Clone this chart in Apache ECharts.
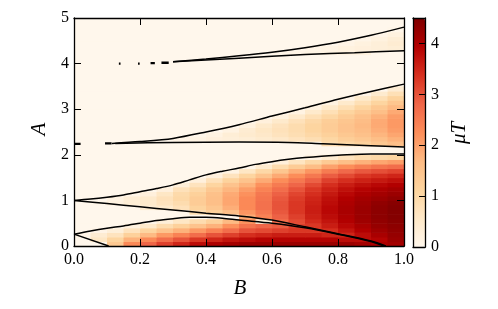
<!DOCTYPE html>
<html><head><meta charset="utf-8">
<script src="https://cdn.jsdelivr.net/npm/echarts@6/dist/echarts.min.js"></script>
<style>html,body{margin:0;padding:0;background:#fff}#c{width:498px;height:309px}</style>
</head><body><div id="c"></div>
<script>
// ---- data ----
const B_mid = [0.025,0.075,0.125,0.175,0.225,0.275,0.325,0.375,0.425,0.475,0.525,0.575,0.625,0.675,0.725,0.775,0.825,0.875,0.925,0.975];
const A_mid = [0.05,0.15,0.25,0.35,0.45,0.55,0.65,0.75,0.85,0.95,1.05,1.15,1.25,1.35,1.45,1.55,1.65,1.75,1.85,1.95,
               2.25,2.35,2.45,2.55,2.65,2.75,2.85,2.95,3.05,3.15,3.25,3.35,3.45,
               4.15,4.25,4.35,4.45,4.55,4.65,4.75];
const muT = [
[0,0,1.4,2.3,2.8,3.2,3.5,3.8,4.0,4.1,4.2,4.2,4.2,4.2,4.2,4.2,4.2,4.1,4.0,4.1],
[0,0.6,1.1,1.8,2.3,2.7,3.0,3.3,3.5,3.7,3.8,3.9,3.9,3.9,3.9,3.9,3.8,3.8,3.9,4.2],
[0.1,0.4,0.7,1.2,1.7,2.1,2.4,2.7,3.0,3.2,3.4,3.5,3.6,3.6,3.6,3.5,3.5,3.8,4.05,4.25],
[0,0.1,0.3,0.7,1.1,1.5,1.8,2.1,2.4,2.7,3.0,3.1,3.2,3.3,3.3,3.4,3.7,3.95,4.15,4.3],
[0,0,0,0.2,0.5,0.9,1.2,1.5,1.8,2.2,2.6,2.8,2.9,3.2,3.3,3.6,3.85,4.05,4.25,4.35],
[0,0,0,0,0,0.3,0.6,0.9,1.2,1.7,2.2,0.3,2.7,3.1,3.45,3.7,3.95,4.15,4.3,4.4],
[0,0,0,0,0,0,0,0,0,0,1.9,2.4,2.85,3.2,3.55,3.8,4.0,4.2,4.35,4.45],
[0,0,0,0,0,0,0,0.9,1.2,1.6,2.15,2.55,2.95,3.3,3.6,3.85,4.05,4.2,4.35,4.45],
[0,0,0,0,0.4,0.5,0.75,1.15,1.45,1.85,2.3,2.65,3.0,3.3,3.6,3.85,4.05,4.2,4.35,4.45],
[0,0.05,0.2,0.35,0.5,0.7,0.9,1.3,1.6,1.95,2.3,2.65,3.0,3.3,3.55,3.8,4.0,4.15,4.3,4.4],
[0,0,0.15,0.35,0.5,0.75,1.0,1.3,1.6,1.95,2.3,2.6,2.95,3.25,3.5,3.75,3.95,4.1,4.2,4.3],
[0,0,0,0.05,0.25,0.6,0.95,1.2,1.55,1.9,2.2,2.55,2.85,3.15,3.4,3.65,3.85,4.0,4.1,4.2],
[0,0,0,0,0,0.25,0.75,1.0,1.4,1.75,2.05,2.4,2.7,3.0,3.3,3.55,3.75,3.9,4.0,4.1],
[0,0,0,0,0,0,0.3,0.7,1.1,1.5,1.8,2.2,2.5,2.8,3.1,3.4,3.6,3.75,3.85,3.95],
[0,0,0,0,0,0,0,0.25,0.75,1.15,1.5,1.9,2.25,2.55,2.85,3.2,3.4,3.55,3.65,3.75],
[0,0,0,0,0,0,0,0,0.25,0.7,1.1,1.5,1.9,2.25,2.55,2.9,3.1,3.3,3.4,3.5],
[0,0,0,0,0,0,0,0,0,0.15,0.6,1.0,1.45,1.85,2.15,2.5,2.75,2.95,3.05,3.15],
[0,0,0,0,0,0,0,0,0,0,0.05,0.45,0.9,1.3,1.65,2.0,2.25,2.45,2.6,2.7],
[0,0,0,0,0,0,0,0,0,0,0,0,0.25,0.65,1.0,1.35,1.6,1.8,1.95,2.05],
[0,0,0,0,0,0,0,0,0,0,0,0,0,0,0.15,0.4,0.7,0.9,1.0,1.1],
[0,0,0,0,0,0,0,0,0,0,0,0,0,0,0,0.9,1.05,1.2,1.4,1.6],
[0,0,0,0,0,0,0.1,0.15,0.25,0.3,0.35,0.45,0.55,0.7,0.85,1.05,1.25,1.4,1.6,1.8],
[0,0,0,0,0,0,0,0.05,0.15,0.35,0.45,0.55,0.7,0.85,1.0,1.2,1.4,1.55,1.75,1.95],
[0,0,0,0,0,0,0,0,0,0.15,0.4,0.6,0.75,0.9,1.1,1.3,1.5,1.65,1.85,2.05],
[0,0,0,0,0,0,0,0,0,0,0.2,0.5,0.7,0.9,1.1,1.3,1.5,1.7,1.9,2.1],
[0,0,0,0,0,0,0,0,0,0,0,0.25,0.5,0.75,1.0,1.25,1.45,1.65,1.9,2.1],
[0,0,0,0,0,0,0,0,0,0,0,0,0.2,0.5,0.8,1.05,1.3,1.55,1.8,2.05],
[0,0,0,0,0,0,0,0,0,0,0,0,0,0.15,0.5,0.8,1.1,1.35,1.6,1.9],
[0,0,0,0,0,0,0,0,0,0,0,0,0,0,0.15,0.5,0.8,1.1,1.4,1.7],
[0,0,0,0,0,0,0,0,0,0,0,0,0,0,0,0.15,0.5,0.8,1.1,1.45],
[0,0,0,0,0,0,0,0,0,0,0,0,0,0,0,0,0.1,0.5,0.8,1.15],
[0,0,0,0,0,0,0,0,0,0,0,0,0,0,0,0,0,0.1,0.45,0.8],
[0,0,0,0,0,0,0,0,0,0,0,0,0,0,0,0,0,0,0,0.4],
[0,0,0,0,0,0,0,0,0,0,0,0.05,0.05,0,0,0,0,0,0,0],
[0,0,0,0,0,0,0,0,0,0,0,0,0.08,0.1,0.12,0.15,0.18,0.2,0,0],
[0,0,0,0,0,0,0,0,0,0,0,0,0,0,0.08,0.12,0.2,0.25,0.3,0.35],
[0,0,0,0,0,0,0,0,0,0,0,0,0,0,0,0,0.1,0.2,0.3,0.4],
[0,0,0,0,0,0,0,0,0,0,0,0,0,0,0,0,0,0.08,0.2,0.35],
[0,0,0,0,0,0,0,0,0,0,0,0,0,0,0,0,0,0,0.08,0.2],
[0,0,0,0,0,0,0,0,0,0,0,0,0,0,0,0,0,0,0,0.05]
];
// boundary (contour) lines, [B, A]
const L1 = [[0.3,4.04],[0.4,4.10],[0.5,4.17],[0.6,4.25],[0.7,4.35],[0.8,4.47],[0.9,4.62],[1.0,4.80]];
const L2 = [[0.3,4.04],[0.5,4.12],[0.7,4.20],[0.85,4.24],[1.0,4.28]];
const L3 = [[0.115,2.25],[0.2,2.29],[0.3,2.36],[0.4,2.50],[0.5,2.66],[0.6,2.85],[0.7,3.03],[0.8,3.22],[0.9,3.39],[1.0,3.55]];
const L4 = [[0.125,2.25],[0.3,2.27],[0.5,2.28],[0.65,2.27],[0.755,2.24],[0.9,2.20],[1.0,2.17]];
const L5 = [[0,1.0],[0.05,1.03],[0.1,1.07],[0.15,1.12],[0.2,1.19],[0.25,1.26],[0.3,1.34],[0.35,1.45],[0.4,1.56],[0.45,1.64],[0.5,1.71],[0.55,1.79],[0.6,1.85],[0.65,1.90],[0.7,1.94],[0.75,1.97],[0.8,1.99],[0.9,2.02],[1.0,2.02]];
const L6 = [[0,1.0],[0.1,0.93],[0.2,0.86],[0.3,0.79],[0.4,0.72],[0.5,0.66],[0.6,0.57],[0.7,0.42],[0.8,0.27],[0.9,0.11],[0.945,0]];
const L7 = [[0,0.26],[0.05,0.33],[0.1,0.39],[0.15,0.44],[0.2,0.50],[0.25,0.56],[0.3,0.60],[0.35,0.63],[0.4,0.63],[0.45,0.61],[0.5,0.57],[0.6,0.50],[0.7,0.40],[0.8,0.26],[0.9,0.10],[0.94,0]];
const L8 = [[0,0.26],[0.105,0]];
const dashSegs = [
  [[0.0,2.24],[0.02,2.24]], [[0.094,2.25],[0.114,2.25]],
  [[0.136,4.0],[0.141,4.0]], [[0.194,4.0],[0.199,4.0]], [[0.232,4.01],[0.245,4.01]], [[0.265,4.02],[0.287,4.02]]
];
const xTicks = [0, 0.2, 0.4, 0.6, 0.8, 1.0];
const yTicks = [0, 1, 2, 3, 4, 5];
const cbarTicks = [0, 1, 2, 3, 4];
const cbarMax = 4.5;
const OrRd = ['#fff7ec','#fee8c8','#fdd49e','#fdbb84','#fc8d59','#ef6548','#d7301f','#b30000','#7f0000'];

// ---- build ----
const cells = [];
A_mid.forEach((a, i) => B_mid.forEach((b, j) => cells.push([b, a, muT[i][j]])));
const dB = B_mid[1] - B_mid[0];
const dA = A_mid[1] - A_mid[0];
const SERIF = '"Liberation Serif","DejaVu Serif",serif';
const black = '#000';

function frameAxis(extra) {
  return Object.assign({
    type: 'value', z: 10,
    axisLine: {show: true, onZero: false, lineStyle: {color: black, width: 1.3}},
    axisTick: {show: true, inside: true, length: 7, lineStyle: {color: black, width: 1}},
    axisLabel: {show: false},
    splitLine: {show: false}
  }, extra);
}
const lblStyle = {color: black, fontFamily: SERIF, fontSize: 16};

const lineSeries = [L1, L2, L3, L4, L5, L6, L7, L8].map(d => ({
  type: 'line', xAxisIndex: 0, yAxisIndex: 0, data: d, symbol: 'none', smooth: 0.3,
  lineStyle: {color: black, width: 1.5}, z: 5, silent: true, clip: true
}));
const dashSeries = dashSegs.map(d => ({
  type: 'line', xAxisIndex: 0, yAxisIndex: 0, data: d, symbol: 'none',
  lineStyle: {color: black, width: 2.4}, z: 5, silent: true
}));

const option = {
  animation: false,
  grid: [
    {left: 74, top: 18, width: 330, height: 228, show: true, backgroundColor: OrRd[0], borderWidth: 0},
    {left: 413, top: 18, width: 12, height: 229, show: false}
  ],
  xAxis: [
    frameAxis({gridIndex: 0, min: 0, max: 1, interval: 0.2, position: 'bottom',
      axisLabel: Object.assign({show: true, margin: 6, formatter: v => v.toFixed(1)}, lblStyle)}),
    frameAxis({gridIndex: 0, min: 0, max: 1, interval: 0.2, position: 'top'}),
    frameAxis({gridIndex: 1, min: 0, max: 1, position: 'bottom', axisTick: {show: false}}),
    frameAxis({gridIndex: 1, min: 0, max: 1, position: 'top', axisTick: {show: false}})
  ],
  yAxis: [
    frameAxis({gridIndex: 0, min: 0, max: 5, interval: 1, position: 'left',
      axisLabel: Object.assign({show: true, margin: 5}, lblStyle)}),
    frameAxis({gridIndex: 0, min: 0, max: 5, interval: 1, position: 'right'}),
    frameAxis({gridIndex: 1, min: 0, max: cbarMax, interval: 1, position: 'right',
      axisTick: {show: true, inside: true, length: 6, lineStyle: {color: black}},
      axisLabel: Object.assign({show: true, margin: 6, formatter: v => (cbarTicks.includes(v) ? String(v) : '')}, lblStyle)}),
    frameAxis({gridIndex: 1, min: 0, max: cbarMax, position: 'left', axisTick: {show: false}})
  ],
  visualMap: {
    type: 'continuous', min: 0, max: cbarMax, dimension: 2, seriesIndex: 0,
    inRange: {color: OrRd}, calculable: false, show: true, orient: 'vertical',
    left: 413, top: 18, itemWidth: 12, itemHeight: 229, padding: 0, text: null, hoverLink: false
  },
  series: [
    {
      type: 'custom', xAxisIndex: 0, yAxisIndex: 0, data: cells, z: 2, silent: true,
      encode: {x: 0, y: 1},
      renderItem: (params, api) => {
        const b = api.value(0), a = api.value(1);
        const p0 = api.coord([b - dB / 2, a + dA / 2]);
        const p1 = api.coord([b + dB / 2, a - dA / 2]);
        return {type: 'rect', shape: {x: p0[0], y: p0[1], width: p1[0] - p0[0] + 0.6, height: p1[1] - p0[1] + 0.6},
          style: {fill: api.visual('color')}};
      }
    }
  ].concat(lineSeries, dashSeries),
  graphic: [
    {type: 'text', x: 240, y: 288, style: {text: 'B', font: 'italic 21px ' + SERIF, fill: black, align: 'center', verticalAlign: 'middle'}},
    {type: 'text', x: 39, y: 129, rotation: Math.PI / 2, style: {text: 'A', font: 'italic 21px ' + SERIF, fill: black, align: 'center', verticalAlign: 'middle'}},
    {type: 'text', x: 459, y: 133, rotation: Math.PI / 2, style: {text: 'μT', font: 'italic 21px ' + SERIF, fill: black, align: 'center', verticalAlign: 'middle'}}
  ]
};
const chart = echarts.init(document.getElementById('c'), null, {renderer: 'canvas'});
chart.setOption(option);
</script></body></html>
